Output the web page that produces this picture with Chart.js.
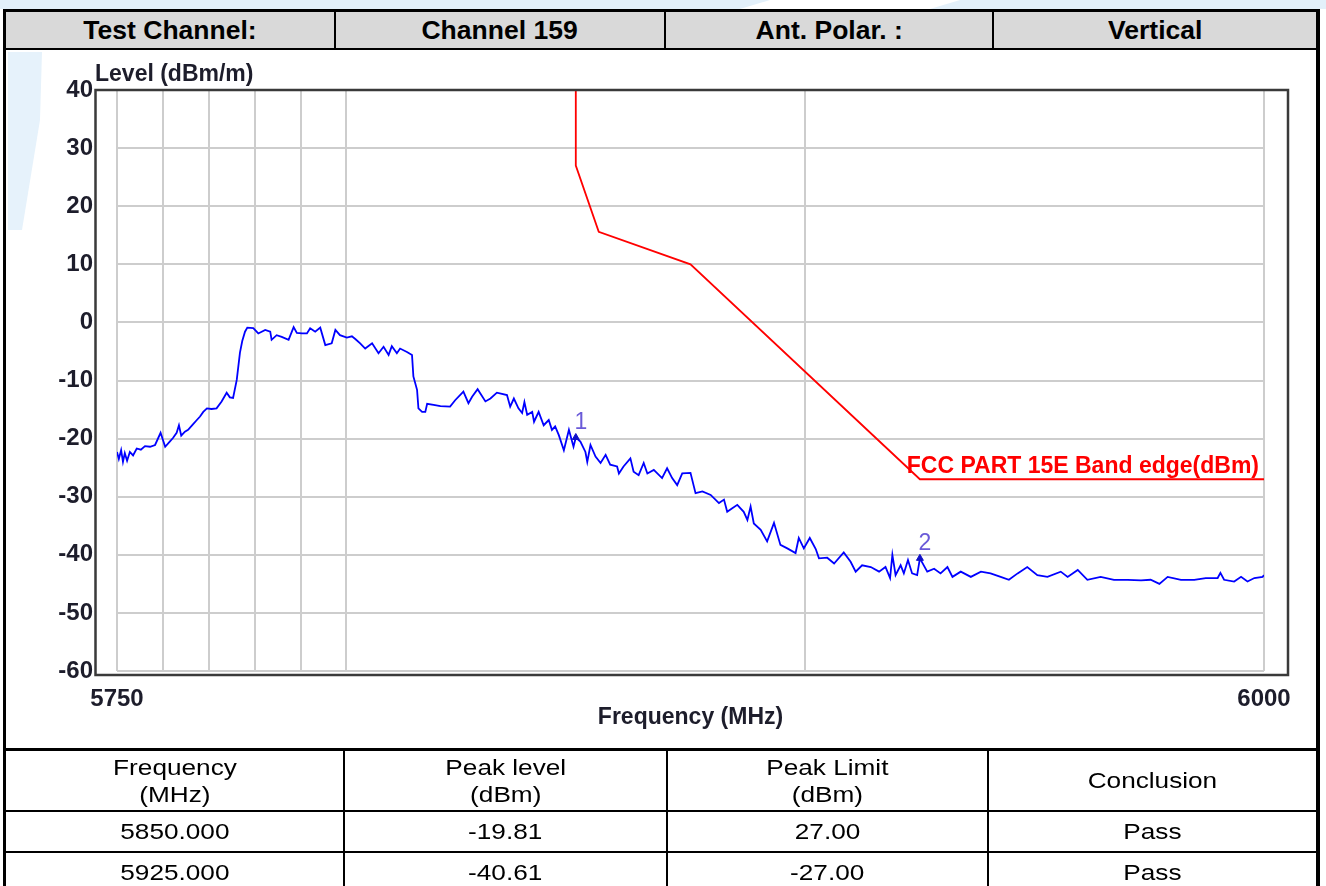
<!DOCTYPE html>
<html>
<head>
<meta charset="utf-8">
<title>Band edge – Channel 159</title>
<script src="https://cdn.jsdelivr.net/npm/chart.js@4.4.1/dist/chart.umd.min.js"></script>
<style>
  html, body { margin: 0; padding: 0; background: #fff; }
  body { width: 1326px; height: 886px; position: relative; overflow: hidden;
         font-family: "Liberation Sans", Arial, sans-serif; color: #000; }
  .abs { position: absolute; box-sizing: border-box; }
  .ln { position: absolute; background: #000; }
  .cell { position: absolute; display: flex; align-items: center; justify-content: center;
          text-align: center; }
  .cell span { display: inline-block; transform-origin: center; }
  .hdr span { font-weight: bold; font-size: 26px; transform: scaleX(1.02); }
  .tb span { font-size: 22px; line-height: 27px; transform: scaleX(1.19); }
  #wm { position: absolute; left: 0; top: 0; }
  #chart { position: absolute; left: 0; top: 0; }
</style>
</head>
<body>
<svg id="wm" width="1326" height="886">
  <polygon points="0,0 770,0 740,9 0,9" fill="#e3f0fa"/>
  <polygon points="960,0 1326,0 1326,9 930,9" fill="#e3f0fa"/>
  <polygon points="8,52 42,52 40,120 22,230 8,230" fill="#e6f2fb"/>
</svg>

<canvas id="chart" width="1326" height="886"></canvas>

<!-- report table frame -->
<div class="abs" style="left:6px;top:12px;width:1310px;height:36px;background:#d9d9d9;"></div>
<div class="ln" style="left:3px;top:9px;width:1317px;height:3px;"></div>
<div class="ln" style="left:3px;top:48px;width:1317px;height:2px;"></div>
<div class="ln" style="left:3px;top:748px;width:1317px;height:3px;"></div>
<div class="ln" style="left:3px;top:810px;width:1317px;height:2px;"></div>
<div class="ln" style="left:3px;top:851px;width:1317px;height:2px;"></div>
<div class="ln" style="left:3px;top:9px;width:3px;height:877px;"></div>
<div class="ln" style="left:1316px;top:9px;width:4px;height:877px;"></div>
<div class="ln" style="left:334px;top:12px;width:2px;height:36px;"></div>
<div class="ln" style="left:664px;top:12px;width:2px;height:36px;"></div>
<div class="ln" style="left:992px;top:12px;width:2px;height:36px;"></div>
<div class="ln" style="left:343px;top:751px;width:2px;height:135px;"></div>
<div class="ln" style="left:666px;top:751px;width:2px;height:135px;"></div>
<div class="ln" style="left:987px;top:751px;width:2px;height:135px;"></div>

<div class="cell hdr" style="left:6px;top:12px;width:328px;height:37px;"><span>Test Channel:</span></div>
<div class="cell hdr" style="left:336px;top:12px;width:328px;height:37px;"><span>Channel 159</span></div>
<div class="cell hdr" style="left:666px;top:12px;width:326px;height:37px;"><span>Ant. Polar. :</span></div>
<div class="cell hdr" style="left:994px;top:12px;width:322px;height:37px;"><span>Vertical</span></div>

<div class="cell tb" style="left:6px;top:751px;width:337px;height:59px;"><span>Frequency<br>(MHz)</span></div>
<div class="cell tb" style="left:345px;top:751px;width:321px;height:59px;"><span>Peak level<br>(dBm)</span></div>
<div class="cell tb" style="left:668px;top:751px;width:319px;height:59px;"><span>Peak Limit<br>(dBm)</span></div>
<div class="cell tb" style="left:989px;top:751px;width:327px;height:59px;"><span>Conclusion</span></div>

<div class="cell tb" style="left:6px;top:812px;width:337px;height:39px;"><span>5850.000</span></div>
<div class="cell tb" style="left:345px;top:812px;width:321px;height:39px;"><span>-19.81</span></div>
<div class="cell tb" style="left:668px;top:812px;width:319px;height:39px;"><span>27.00</span></div>
<div class="cell tb" style="left:989px;top:812px;width:327px;height:39px;"><span>Pass</span></div>

<div class="cell tb" style="left:6px;top:853px;width:337px;height:39px;"><span>5925.000</span></div>
<div class="cell tb" style="left:345px;top:853px;width:321px;height:39px;"><span>-40.61</span></div>
<div class="cell tb" style="left:668px;top:853px;width:319px;height:39px;"><span>-27.00</span></div>
<div class="cell tb" style="left:989px;top:853px;width:327px;height:39px;"><span>Pass</span></div>

<script>
// Measured spectrum (frequency in MHz, level in dBm)
const traceFreq = [
  5750.0,5750.4,5750.9,5751.3,5751.7,5752.2,5752.8,5753.5,5754.3,5755.2,5756.1,5757.2,5758.3,5759.5,
  5760.5,5761.4,5762.2,5763.0,5763.5,5764.0,5764.8,5765.5,5766.5,5767.4,5768.1,5768.8,5769.6,5770.6,
  5771.7,5772.8,5773.9,5774.6,5775.3,5776.1,5776.8,5777.3,5777.9,5778.4,5779.7,5780.8,5782.3,5783.4,
  5783.7,5784.8,5785.9,5787.4,5788.5,5789.2,5790.3,5791.4,5792.1,5793.2,5794.3,5795.4,5796.8,5797.6,
  5798.6,5800.1,5801.2,5802.0,5803.0,5804.1,5805.6,5807.0,5808.1,5809.2,5809.9,5811.0,5811.7,5813.2,
  5814.3,5814.6,5815.4,5815.7,5816.5,5817.2,5817.6,5819.0,5820.5,5822.6,5823.7,5825.5,5826.6,5827.4,
  5828.6,5830.3,5831.4,5832.8,5835.0,5835.7,5836.5,5837.5,5838.3,5838.8,5839.4,5840.5,5840.9,5841.9,
  5843.0,5844.1,5844.8,5845.5,5846.3,5847.4,5848.5,5849.5,5850.0,5851.0,5852.1,5852.5,5853.2,5854.3,
  5855.4,5856.5,5857.5,5859.0,5859.4,5860.4,5861.9,5862.6,5863.7,5864.8,5865.6,5867.0,5868.8,5869.9,
  5871.0,5872.1,5873.2,5875.0,5876.1,5877.6,5879.4,5881.2,5882.3,5883.0,5884.1,5885.2,5886.6,5887.4,
  5888.1,5888.8,5890.3,5891.7,5893.2,5894.6,5896.1,5897.9,5898.6,5899.7,5901.0,5902.3,5903.0,5904.8,
  5906.3,5908.4,5909.9,5911.0,5912.4,5914.3,5916.1,5917.5,5918.5,5919.0,5919.7,5920.8,5921.5,5922.4,
  5923.3,5924.4,5925.0,5926.6,5928.1,5929.5,5931.0,5932.1,5933.9,5936.1,5938.3,5940.4,5942.6,5944.4,
  5946.3,5948.4,5950.6,5952.8,5955.7,5957.2,5959.4,5961.5,5964.4,5967.3,5970.3,5973.2,5975.3,5977.2,
  5979.0,5981.9,5984.8,5987.3,5989.9,5990.5,5991.3,5993.5,5995.0,5996.4,5997.9,5999.7,6000.0
];
const traceLevel = [
  -22.3,-23.5,-22.0,-24.0,-22.5,-23.8,-22.3,-22.9,-21.7,-21.9,-21.3,-21.4,-21.1,-19.0,
  -21.4,-20.6,-19.9,-19.0,-17.7,-19.5,-18.8,-18.5,-17.6,-16.8,-16.2,-15.4,-14.8,-14.9,
  -14.8,-13.6,-12.1,-12.9,-13.0,-9.9,-5.2,-3.2,-1.6,-0.9,-1.0,-1.9,-1.3,-1.6,
  -3.0,-2.2,-2.5,-3.0,-0.8,-1.8,-1.9,-1.9,-1.0,-1.6,-0.9,-3.9,-3.6,-1.3,
  -2.2,-2.6,-2.4,-2.9,-3.6,-4.5,-3.6,-5.3,-4.2,-5.6,-4.1,-5.3,-4.5,-5.1,
  -5.6,-9.3,-11.6,-14.8,-15.4,-15.4,-14.0,-14.2,-14.4,-14.5,-13.4,-11.9,-13.9,-12.8,
  -11.5,-13.6,-13.1,-12.1,-12.5,-14.5,-13.1,-14.8,-15.6,-13.7,-15.9,-15.4,-17.1,-15.4,
  -17.7,-16.8,-18.5,-17.9,-19.4,-22.0,-18.5,-21.4,-19.81,-20.5,-22.3,-24.0,-21.1,-23.1,
  -24.2,-22.8,-24.5,-24.8,-26.0,-24.8,-23.4,-25.7,-26.3,-24.2,-26.0,-25.4,-26.8,-25.1,
  -26.8,-28.0,-26.0,-25.9,-29.4,-29.1,-29.7,-31.1,-30.5,-32.6,-32.0,-31.4,-32.6,-34.0,
  -31.7,-34.6,-35.7,-37.7,-34.5,-38.3,-38.9,-39.7,-37.1,-38.9,-37.1,-39.0,-40.6,-40.5,
  -41.5,-39.6,-41.2,-42.9,-41.8,-42.1,-42.9,-42.1,-44.0,-40.0,-43.5,-41.8,-43.2,-40.9,
  -43.2,-43.5,-40.61,-42.9,-42.4,-43.2,-42.1,-43.8,-42.9,-43.8,-42.9,-43.2,-43.8,-44.3,
  -43.2,-42.1,-43.5,-43.8,-42.9,-43.8,-42.6,-44.3,-43.8,-44.3,-44.3,-44.4,-44.3,-45.0,
  -43.8,-44.3,-44.3,-44.0,-44.0,-43.1,-44.3,-44.6,-43.8,-44.6,-44.0,-43.8,-43.5
];

// FCC Part 15E band-edge limit line
const limitFreq  = [5850, 5850, 5855, 5875, 5925, 6000];
const limitLevel = [40, 27, 15.6, 10, -27, -27];
const limitName  = 'FCC PART 15E Band edge(dBm)';

// Peak markers
const markerFreq  = [5850, 5925];
const markerLevel = [-19.81, -40.61];
const markerNames = ['1', '2'];

// Axis ticks
const xGridValues  = [5750, 5760, 5770, 5780, 5790, 5800, 5900, 6000];
const xLabelValues = [5750, 6000];
const yTickValues  = [-60, -50, -40, -30, -20, -10, 0, 10, 20, 30, 40];
const xTitle = 'Frequency (MHz)';
const yTitle = 'Level (dBm/m)';

const zip = (xs, ys) => xs.map((x, i) => ({ x, y: ys[i] }));
const textColor = '#1d1d2b';
const FAMILY = '"Liberation Sans", Arial, sans-serif';
const tickFont = { family: FAMILY, size: 24, weight: 'bold' };

// Frame around the plot, axis titles, marker numbers and limit name
const decorations = {
  id: 'decorations',
  afterDraw(chart) {
    const { ctx, chartArea: a, scales: { x, y } } = chart;
    ctx.save();
    ctx.strokeStyle = '#3a3a3a';
    ctx.lineWidth = 2.5;
    ctx.strokeRect(a.left - 21.5, a.top, (a.right + 24) - (a.left - 21.5), (a.bottom + 4) - a.top);

    ctx.fillStyle = textColor;
    ctx.font = 'bold 23px ' + FAMILY;
    ctx.textAlign = 'left';
    ctx.textBaseline = 'middle';
    ctx.fillText(yTitle, a.left - 22, a.top - 15);
    ctx.textAlign = 'center';
    ctx.fillText(xTitle, (a.left + a.right) / 2, a.bottom + 47);

    ctx.fillStyle = '#ff0000';
    ctx.font = 'bold 23px ' + FAMILY;
    ctx.textAlign = 'right';
    ctx.textBaseline = 'alphabetic';
    ctx.fillText(limitName, x.getPixelForValue(limitFreq[limitFreq.length - 1]) - 5,
                 y.getPixelForValue(limitLevel[limitLevel.length - 1]) - 6);

    ctx.fillStyle = '#6a5ad8';
    ctx.font = '23px ' + FAMILY;
    ctx.textAlign = 'center';
    ctx.textBaseline = 'alphabetic';
    markerFreq.forEach((f, i) => {
      ctx.fillText(markerNames[i], x.getPixelForValue(f) + 5, y.getPixelForValue(markerLevel[i]) - 8);
    });
    ctx.restore();
  }
};

new Chart(document.getElementById('chart'), {
  type: 'scatter',
  data: {
    datasets: [
      {
        label: 'Markers',
        data: zip(markerFreq, markerLevel),
        showLine: false,
        pointStyle: 'triangle',
        pointRadius: 4,
        backgroundColor: '#1010c8',
        borderColor: '#1010c8',
        borderWidth: 1
      },
      {
        label: 'Level',
        data: zip(traceFreq, traceLevel),
        showLine: true,
        borderColor: '#0000ff',
        borderWidth: 1.8,
        pointRadius: 0,
        tension: 0
      },
      {
        label: limitName,
        data: zip(limitFreq, limitLevel),
        showLine: true,
        borderColor: '#ff0000',
        borderWidth: 1.8,
        pointRadius: 0,
        tension: 0
      }
    ]
  },
  options: {
    responsive: false,
    animation: false,
    devicePixelRatio: 1,
    layout: { padding: { left: 0, top: 90, right: 62, bottom: 155 } },
    plugins: { legend: { display: false }, tooltip: { enabled: false } },
    scales: {
      x: {
        type: 'linear',
        min: 5750,
        max: 6000,
        afterFit: s => { s.height = 60; },
        afterBuildTicks: s => { s.ticks = xGridValues.map(v => ({ value: v })); },
        grid: { color: '#cdcdcd', lineWidth: 2, drawTicks: false },
        border: { display: false },
        ticks: {
          autoSkip: false, maxRotation: 0, padding: 14,
          color: textColor, font: tickFont,
          callback: v => (xLabelValues.includes(v) ? String(v) : '')
        }
      },
      y: {
        min: -60,
        max: 40,
        afterFit: s => { s.width = 117; },
        afterBuildTicks: s => { s.ticks = yTickValues.map(v => ({ value: v })); },
        grid: { color: '#cdcdcd', lineWidth: 2, drawTicks: false },
        border: { display: false },
        ticks: { padding: 24, color: textColor, font: tickFont }
      }
    }
  },
  plugins: [decorations]
});
</script>
</body>
</html>
